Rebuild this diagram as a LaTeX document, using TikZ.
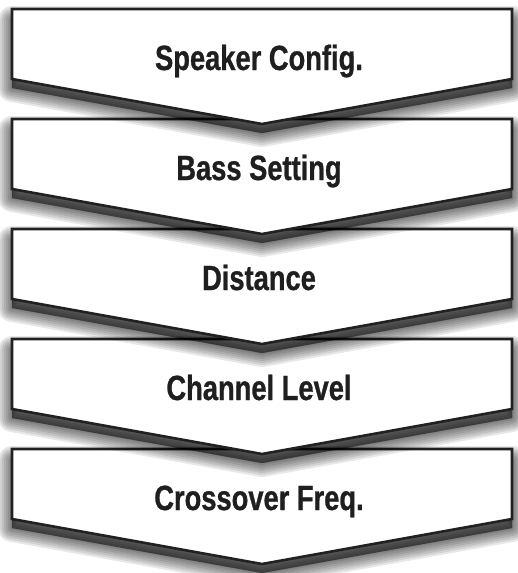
\documentclass[tikz,border=0pt]{standalone}
\usepackage{fontspec}
\newfontfamily\condfont{Liberation Sans}[FakeStretch=0.78, BoldFeatures={FakeBold=0.8}]
\tikzset{
  stepshape/.style={draw=black!87, line width=2.6pt, fill=white, line join=miter},
  shadowlayer/.style={fill=black, draw=black, line join=round, opacity=0.09},
  steplabel/.style={font=\condfont\bfseries\fontsize{35}{40}\selectfont, text=black!88, anchor=base, inner sep=0pt}
}
\begin{document}
\begin{tikzpicture}[x=1pt,y=-1pt]
\useasboundingbox (0,0) rectangle (517,573);
\foreach \i/\txt in {4/Crossover Freq., 3/Channel Level, 2/Distance, 1/Bass Setting, 0/Speaker Config.}{
  \pgfmathsetmacro{\t}{9+110*\i}
  \foreach \w in {28,24,20,16,12,8,4,1}{
    \path[shadowlayer, line width=\w pt] (12,\t+11) -- (512,\t+11) -- (512,\t+79) -- (262,\t+124) -- (12,\t+79) -- cycle;
  }
  \path[stepshape] (12,\t) -- (512,\t) -- (512,\t+70) -- (262,\t+115) -- (12,\t+70) -- cycle;
  \node[steplabel] (step\i) at (259,\t+61) {\txt};
}
\end{tikzpicture}
\end{document}
